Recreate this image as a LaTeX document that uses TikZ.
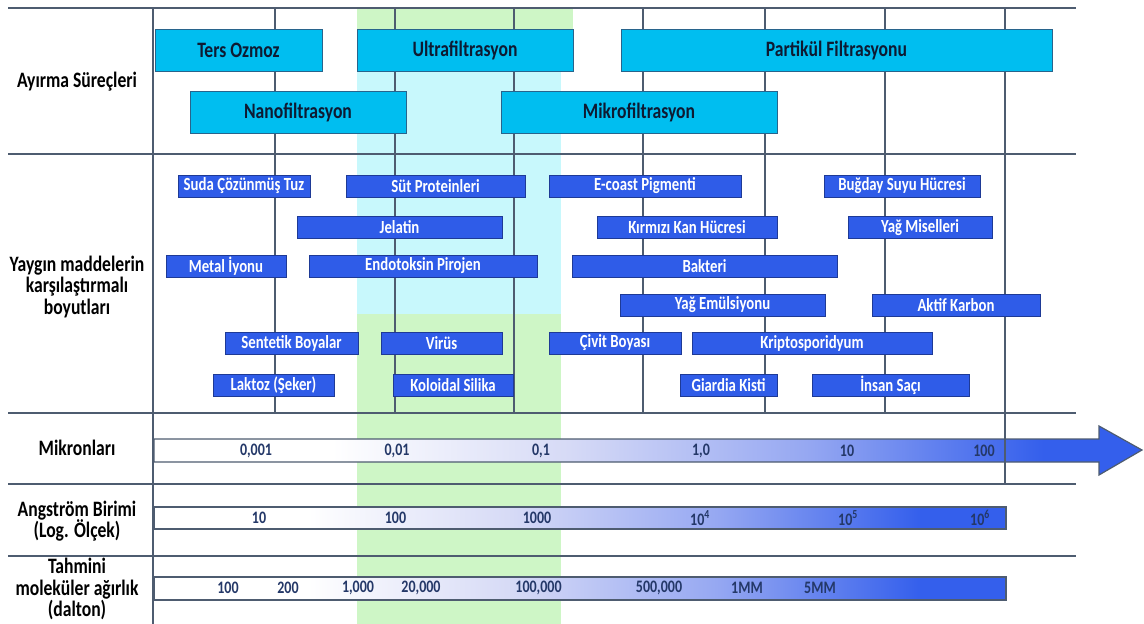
\documentclass[tikz,border=0pt]{standalone}
\usepackage{fontspec}
\setmainfont{Carlito}[FakeStretch=0.8]
\definecolor{bandgreen}{RGB}{206,246,198}
\definecolor{bandcyan}{RGB}{200,248,252}
\definecolor{proccyan}{RGB}{0,190,240}
\definecolor{procedge}{RGB}{40,100,140}
\definecolor{procink}{RGB}{14,26,50}
\definecolor{itemblue}{RGB}{47,92,232}
\definecolor{itemedge}{RGB}{30,58,150}
\definecolor{gridline}{RGB}{78,92,112}
\definecolor{barpale}{RGB}{214,218,246}
\definecolor{barmid}{RGB}{150,168,242}
\definecolor{barblue}{RGB}{52,95,236}
\definecolor{numink}{RGB}{36,56,104}
\pgfdeclarehorizontalshading{scalefade}{100bp}{color(0bp)=(white); color(25bp)=(white); color(34bp)=(white); color(46bp)=(barpale); color(58bp)=(barmid); color(70bp)=(barblue); color(100bp)=(barblue)}
\begin{document}
\begin{tikzpicture}[x=1pt, y=-1pt,
    procbox/.style={draw=procedge, line width=0.8pt, fill=proccyan, text=procink, minimum height=42, inner sep=0pt, font=\fontsize{22}{24}\selectfont\bfseries},
    itembox/.style={draw=itemedge, line width=0.8pt, fill=itemblue, text=white, minimum height=22, inner sep=0pt, font=\fontsize{18.5}{20}\selectfont\bfseries},
    rowlabel/.style={align=center, text=black, inner sep=0pt, font=\fontsize{22}{21.7}\selectfont\bfseries},
    scalenum/.style={text=numink, inner sep=0pt, font=\fontsize{17.5}{19}\selectfont\bfseries},
    grid/.style={draw=gridline, line width=1.2pt},
    scalebar/.style={draw=gridline, line width=1.2pt, shading=scalefade}]
  \useasboundingbox (0,0) rectangle (1144,624);

  % Bands
  \fill[bandgreen] (357,8) rectangle (561,624);
  \fill[bandgreen] (561,8) rectangle (573,29);
  \fill[bandcyan] (357,29) rectangle (561,314);

  % Scale bars
  \path[scalebar] (154,439) -- (1099,439) -- (1099,426) -- (1142,450) -- (1099,475) -- (1099,462) -- (154,462) -- cycle;
  \path[scalebar] (154,507) rectangle (1006,529);
  \path[scalebar] (154,577) rectangle (1006,600);

  % Grid
  \draw[grid] (8,8) -- (1076,8);
  \draw[grid] (8,154) -- (1076,154);
  \draw[grid] (8,413) -- (1076,413);
  \draw[grid] (8,484) -- (1076,484);
  \draw[grid] (8,556) -- (1076,556);
  \draw[grid, line width=1.5pt] (153,8) -- (153,624);
  \draw[grid] (275,8) -- (275,413);
  \draw[grid] (395,8) -- (395,413);
  \draw[grid] (514,8) -- (514,413);
  \draw[grid] (643,8) -- (643,413);
  \draw[grid] (765,8) -- (765,413);
  \draw[grid] (885,8) -- (885,413);
  \draw[grid] (1005,8) -- (1005,484);

  % Separation processes
  \node[procbox, minimum width=167] at (238.5, 50) (ters) {Ters Ozmoz};
  \node[procbox, minimum width=216] at (465, 50) (ultra) {Ultrafiltrasyon};
  \node[procbox, minimum width=431] at (836.5, 50) (partikul) {Partikül Filtrasyonu};
  \node[procbox, minimum width=216] at (298, 112.5) (nano) {Nanofiltrasyon};
  \node[procbox, minimum width=276] at (639, 112.5) (mikro) {Mikrofiltrasyon};

  % Common substances
  \node[itembox, minimum width=132] at (244, 186) (tuz) {Suda Çözünmüş Tuz};
  \node[itembox, minimum width=179] at (435.5, 186) (sut) {Süt Proteinleri};
  \node[itembox, minimum width=192] at (645, 186) (ecoast) {E-coast Pigmenti};
  \node[itembox, minimum width=156] at (902, 186) (bugday) {Buğday Suyu Hücresi};
  \node[itembox, minimum width=205] at (399.5, 227.5) (jelatin) {Jelatin};
  \node[itembox, minimum width=180] at (687, 227.5) (kan) {Kırmızı Kan Hücresi};
  \node[itembox, minimum width=144] at (920, 227.5) (misel) {Yağ Miselleri};
  \node[itembox, minimum width=120] at (226, 266) (metal) {Metal İyonu};
  \node[itembox, minimum width=228] at (423, 266) (endo) {Endotoksin Pirojen};
  \node[itembox, minimum width=265] at (704.5, 266) (bakteri) {Bakteri};
  \node[itembox, minimum width=205] at (722.5, 305) (emulsiyon) {Yağ Emülsiyonu};
  \node[itembox, minimum width=168] at (956, 305) (karbon) {Aktif Karbon};
  \node[itembox, minimum width=133] at (291.5, 343) (sentetik) {Sentetik Boyalar};
  \node[itembox, minimum width=121] at (441.5, 343) (virus) {Virüs};
  \node[itembox, minimum width=132] at (615, 343) (civit) {Çivit Boyası};
  \node[itembox, minimum width=240] at (812, 343) (kripto) {Kriptosporidyum};
  \node[itembox, minimum width=121] at (273.5, 385) (laktoz) {Laktoz (Şeker)};
  \node[itembox, minimum width=120] at (453, 385) (silika) {Koloidal Silika};
  \node[itembox, minimum width=97] at (728.5, 385) (giardia) {Giardia Kisti};
  \node[itembox, minimum width=157] at (890.5, 385) (sac) {İnsan Saçı};

  % Row labels
  \node[rowlabel] at (77, 82) (ayirma) {Ayırma Süreçleri};
  \node[rowlabel] at (77, 287) (yaygin) {Yaygın maddelerin\\karşılaştırmalı\\boyutları};
  \node[rowlabel] at (77, 448) (mikron) {Mikronları};
  \node[rowlabel] at (77, 521) (angstrom) {Angström Birimi\\(Log. Ölçek)};
  \node[rowlabel] at (77, 589) (dalton) {Tahmini\\moleküler ağırlık\\(dalton)};

  % Scale numbers
  \node[scalenum] at (256, 451) (m1) {0,001};
  \node[scalenum] at (397, 451) (m2) {0,01};
  \node[scalenum] at (541, 451) (m3) {0,1};
  \node[scalenum] at (701, 451) (m4) {1,0};
  \node[scalenum] at (847, 451) (m5) {10};
  \node[scalenum] at (984, 451) (m6) {100};
  \node[scalenum] at (259, 518) (a1) {10};
  \node[scalenum] at (395.5, 518) (a2) {100};
  \node[scalenum] at (537, 518) (a3) {1000};
  \node[scalenum] at (700, 518) (a4) {10\textsuperscript{4}};
  \node[scalenum] at (848, 518) (a5) {10\textsuperscript{5}};
  \node[scalenum] at (980, 518) (a6) {10\textsuperscript{6}};
  \node[scalenum] at (228, 588) (d1) {100};
  \node[scalenum] at (288, 588) (d2) {200};
  \node[scalenum] at (358, 588) (d3) {1,000};
  \node[scalenum] at (421, 588) (d4) {20,000};
  \node[scalenum] at (538.5, 588) (d5) {100,000};
  \node[scalenum] at (659, 588) (d6) {500,000};
  \node[scalenum] at (747, 588) (d7) {1MM};
  \node[scalenum] at (820, 588) (d8) {5MM};
\end{tikzpicture}
\end{document}
